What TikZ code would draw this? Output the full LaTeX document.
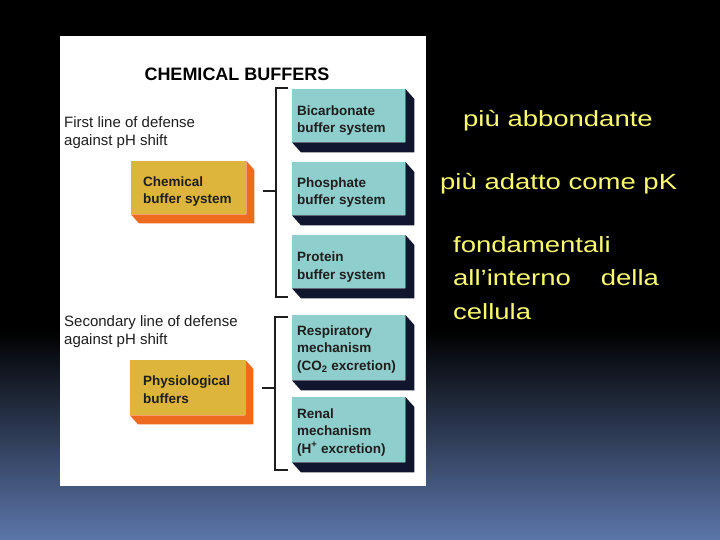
\documentclass[tikz,border=0pt]{standalone}
\usepackage{fontspec}
\setmainfont{Liberation Sans}
\newfontfamily\yfont[FakeStretch=1.25]{Liberation Sans}
\usetikzlibrary{calc}
\definecolor{bgblue}{RGB}{92,118,170}
\definecolor{tealcol}{RGB}{142,206,204}
\definecolor{tealshadow}{RGB}{16,22,46}
\definecolor{mustard}{RGB}{221,180,60}
\definecolor{orangeshadow}{RGB}{238,106,30}
\definecolor{ytext}{RGB}{250,250,110}
\definecolor{ink}{RGB}{30,30,30}
\newcommand\extrude[3]{\fill[#3] (#1.north east) -- ++(#2) -- ($(#1.south east)+(#2)$) -- ($(#1.south west)+(#2)$) -- (#1.south west) -- (#1.south east) -- cycle;}
\tikzset{
  face/.style={anchor=north west, minimum width=113pt, minimum height=53pt, inner sep=0pt},
  tealface/.style={face, fill=tealcol},
  threeline/.style={minimum height=65pt},
  orangeface/.style={face, fill=mustard, minimum width=115pt},
  boxtext/.style={anchor=base west, inner sep=0pt, align=left,
    font=\fontsize{13.5}{17.5}\selectfont\bfseries, text=ink},
  label/.style={anchor=base west, inner sep=0pt, align=left, font=\fontsize{15}{18}\selectfont, text=ink},
  ylabel/.style={anchor=base west, inner sep=0pt, align=left, font=\yfont\fontsize{22}{33.5}\selectfont, text=ytext},
  bracket/.style={draw=ink, line width=1.3pt}
}
\begin{document}
\begin{tikzpicture}[x=1pt,y=-1pt]
\useasboundingbox (0,0) rectangle (720,540);
\fill[black] (0,0) rectangle (720,540);
\shade[top color=black, bottom color=bgblue] (0,330) rectangle (720,540);
% panel
\fill[white] (60,36) rectangle (426,486);
\node[anchor=base, inner sep=0pt, font=\fontsize{18}{20}\selectfont\bfseries] (title) at (237,81) {CHEMICAL BUFFERS};
\node[label] (first) at (64,146) {First line of defense\\against pH shift};
\node[label] (second) at (64,344) {Secondary line of defense\\against pH shift};
% teal boxes
\node[tealface] (bic) at (292,89) {};
\node[tealface] (pho) at (292,162) {};
\node[tealface] (pro) at (292,235) {};
\node[tealface, threeline] (res) at (292,315) {};
\node[tealface, threeline] (ren) at (292,397) {};
\foreach \n in {bic,pho,pro,res,ren}{\extrude{\n}{9,10}{tealshadow}}
\node[boxtext] (bict) at ($(bic.north west)+(5,44)$) {Bicarbonate\\buffer system};
\node[boxtext] (phot) at ($(pho.north west)+(5,43)$) {Phosphate\\buffer system};
\node[boxtext] (prot) at ($(pro.north west)+(5,44)$) {Protein\\buffer system};
\node[boxtext] (rest) at ($(res.north west)+(5,55)$) {Respiratory\\mechanism\\(CO\textsubscript{2} excretion)};
\node[boxtext] (rent) at ($(ren.north west)+(5,56)$) {Renal\\mechanism\\(H\textsuperscript{+} excretion)};
% orange boxes
\node[orangeface] (chem) at (131,161) {};
\node[orangeface, minimum height=55pt] (phys) at (130,360) {};
\foreach \n in {chem,phys}{\extrude{\n}{8,9}{orangeshadow}}
\node[boxtext] (chemt) at ($(chem.north west)+(12,43)$) {Chemical\\buffer system};
\node[boxtext] (physt) at ($(phys.north west)+(13,43)$) {Physiological\\buffers};
% brackets
\coordinate (b1t) at (288,88);
\coordinate (b1b) at (288,297);
\coordinate (b1m) at (276,191);
\draw[bracket] (b1t) -- (b1t -| b1m) -- (b1b -| b1m) -- (b1b);
\draw[bracket] (b1m) -- ++(-13,0);
\coordinate (b2t) at (288,317);
\coordinate (b2b) at (288,470);
\coordinate (b2m) at (275,388);
\draw[bracket] (b2t) -- (b2t -| b2m) -- (b2b -| b2m) -- (b2b);
\draw[bracket] (b2m) -- ++(-13,0);
% right text
\node[ylabel] (t1) at (463,127) {più abbondante};
\node[ylabel] (t2) at (440,190) {più adatto come pK};
\node[ylabel] (t3) at (453,319) {fondamentali\\all’interno\hspace{30pt}della\\cellula};
\end{tikzpicture}
\end{document}
